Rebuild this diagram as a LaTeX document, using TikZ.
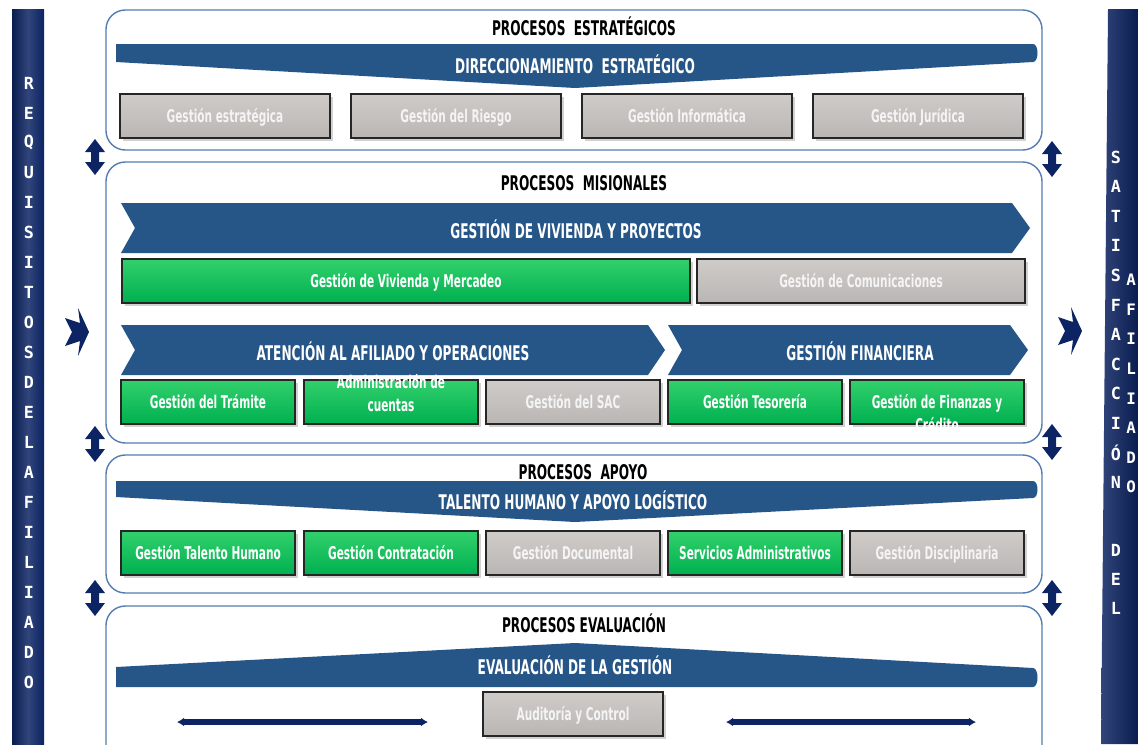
\documentclass[tikz,border=0pt]{standalone}
\usepackage{fontspec}
\setmainfont{DejaVu Sans}[FakeStretch=0.6]
\setmonofont{DejaVu Sans Mono}
\usetikzlibrary{arrows.meta,positioning,shapes,shadows}

\definecolor{azulbarra}{RGB}{12,36,99}
\definecolor{azulbanda}{RGB}{38,85,135}
\definecolor{bordepanel}{RGB}{84,124,176}
\definecolor{verde}{RGB}{0,176,80}
\definecolor{verdeclaro}{RGB}{50,208,108}
\definecolor{gris}{RGB}{186,182,179}
\definecolor{grisclaro}{RGB}{206,203,201}
\definecolor{textogris}{RGB}{244,244,244}

\begin{document}
\begin{tikzpicture}[x=0.02cm, y=-0.02cm, thick]

	\tikzstyle{panel}=[draw=bordepanel, line width=0.8pt, rounded corners=11pt, fill=white]
	\tikzstyle{caja}=[rectangle, draw=black!85, line width=1pt, minimum height=0.88cm, inner sep=1pt, text height=1.4ex, text depth=0pt, font=\bfseries\fontsize{10}{13}\selectfont, drop shadow={opacity=0.35, shadow xshift=1.5pt, shadow yshift=-1.5pt}]
	\tikzstyle{cverde}=[caja, top color=verdeclaro, bottom color=verde, text=white]
	\tikzstyle{cgris}=[caja, top color=grisclaro, bottom color=gris, text=textogris]
	\tikzstyle{banda}=[fill=azulbanda]
	\tikzstyle{tbanda}=[text=white, inner sep=0pt, font=\bfseries\fontsize{11.5}{12}\selectfont]
	\tikzstyle{titulo}=[text=black, inner sep=0pt, font=\bfseries\fontsize{11.5}{12}\selectfont]
	\tikzstyle{letra}=[text=white, inner sep=0pt, font=\ttfamily\bfseries\fontsize{9.5}{10}\selectfont]
	\tikzstyle{flecha}=[fill=azulbarra]
	\tikzstyle{linea}=[line width=3pt, draw=azulbarra, {Latex[length=4pt,width=5pt]}-{Latex[length=4pt,width=5pt]}]

	\useasboundingbox (0,0) rectangle (1138,744);
	\clip (0,0) rectangle (1138,744);

	% barras laterales
	\shade[left color=azulbarra!80!black, right color=azulbarra, middle color=azulbarra!85!white] (12,9) rectangle (44,744);
	\shade[left color=azulbarra!85!white, right color=azulbarra!80!black] (1108,9) -- (1138,9) -- (1138,744) -- (1101,744) -- cycle;

	\foreach \l [count=\i from 0] in {R,E,Q,U,I,S,I,T,O,S,D,E,L,A,F,I,L,I,A,D,O}
		\node[letra] (izq\i) at (29,{83+\i*29.95}) {\l};
	\foreach \l [count=\i from 0] in {S,A,T,I,S,F,A,C,C,I,Ó,N}
		\node[letra] (der\i) at (1116,{157+\i*29.6}) {\l};
	\foreach \l [count=\i from 0] in {D,E,L}
		\node[letra] (del\i) at (1116,{550+\i*29}) {\l};
	\foreach \l [count=\i from 0] in {A,F,I,L,I,A,D,O}
		\node[letra, font=\ttfamily\bfseries\fontsize{9}{10}\selectfont] (afi\i) at (1131,{280+\i*29.6}) {\l};

	% paneles
	\draw[panel] (106,10) rectangle (1042,150);
	\draw[panel] (106,162) rectangle (1042,443);
	\draw[panel] (106,455) rectangle (1042,593);
	\draw[panel] (106,606) rectangle (1042,770);

	\node[titulo] (tit1) at (584,26) {PROCESOS\ \ ESTRATÉGICOS};
	\node[titulo] (tit2) at (584,183) {PROCESOS\ \ MISIONALES};
	\node[titulo] (tit3) at (583,472) {PROCESOS\ \ APOYO};
	\node[titulo] (tit4) at (584,623) {PROCESOS EVALUACIÓN};

	% bandas
	\fill[banda] (116,44) -- (1033,44) .. controls (1039,44) and (1039,62) .. (1033,62) -- (575,88) -- (116,62) -- cycle;
	\fill[banda] (121,203) -- (1012,203) -- (1030,228) -- (1012,253) -- (121,253) -- (135,228) -- cycle;
	\fill[banda] (121,325) -- (648,325) -- (665,350) -- (648,375) -- (121,375) -- (135,350) -- cycle;
	\fill[banda] (668,325) -- (1010,325) -- (1028,350) -- (1010,375) -- (668,375) -- (682,350) -- cycle;
	\fill[banda] (116,481) -- (1033,481) .. controls (1039,481) and (1039,498) .. (1033,498) -- (575,522) -- (116,497) -- cycle;
	\fill[banda] (116,667) -- (575,643) -- (1033,668) .. controls (1039,668) and (1039,687) .. (1033,687) -- (116,687) -- cycle;

	\node[tbanda] (b1) at (575,64) {DIRECCIONAMIENTO\ \ ESTRATÉGICO};
	\node[tbanda] (b2) at (576,229) {GESTIÓN DE VIVIENDA Y PROYECTOS};
	\node[tbanda] (b3) at (393,351) {ATENCIÓN AL AFILIADO Y OPERACIONES};
	\node[tbanda] (b4) at (860,351) {GESTIÓN FINANCIERA};
	\node[tbanda] (b5) at (573,500) {TALENTO HUMANO Y APOYO LOGÍSTICO};
	\node[tbanda] (b6) at (575,665) {EVALUACIÓN DE LA GESTIÓN};

	% procesos estrategicos
	\node[cgris, minimum width=4.2cm] (ge) at (225,116) {Gestión estratégica};
	\node[cgris, minimum width=4.2cm] (gr) at (456,116) {Gestión del Riesgo};
	\node[cgris, minimum width=4.2cm] (gi) at (687,116) {Gestión Informática};
	\node[cgris, minimum width=4.2cm] (gj) at (918,116) {Gestión Jurídica};

	% procesos misionales
	\node[cverde, minimum width=11.36cm] (gvm) at (406,281) {Gestión de Vivienda y Mercadeo};
	\node[cgris, minimum width=6.56cm] (gc) at (861,281) {Gestión de Comunicaciones};

	\node[cverde, minimum width=3.48cm] (gt) at (208,402) {Gestión del Trámite};
	\node[cverde, minimum width=3.48cm] (ac) at (391,402) {};
	\node[cgris, minimum width=3.48cm] (sac) at (573,402) {Gestión del SAC};
	\node[cverde, minimum width=3.48cm] (gte) at (755,402) {Gestión Tesorería};
	\node[cverde, minimum width=3.48cm] (gf) at (937,402) {};
	\node[text=white, align=center, inner sep=0pt, font=\bfseries\fontsize{10}{13}\selectfont] (acx) at ([yshift=5pt]ac.center) {Administración de\\cuentas};
	\node[text=white, align=center, inner sep=0pt, font=\bfseries\fontsize{10}{13}\selectfont] (gfx) at ([yshift=-6.5pt]gf.center) {Gestión de Finanzas y\\Crédito};

	% procesos apoyo
	\node[cverde, minimum width=3.48cm] (gth) at (208,553) {Gestión Talento Humano};
	\node[cverde, minimum width=3.48cm] (gco) at (391,553) {Gestión Contratación};
	\node[cgris, minimum width=3.48cm] (gd) at (573,553) {Gestión Documental};
	\node[cverde, minimum width=3.48cm] (sa) at (755,553) {Servicios Administrativos};
	\node[cgris, minimum width=3.48cm] (gdi) at (937,553) {Gestión Disciplinaria};

	% procesos evaluacion
	\node[cgris, minimum width=3.6cm] (ayc) at (573,714) {Auditoría y Control};
	\coordinate (l1a) at (177,722);
	\coordinate (l1b) at (428,722);
	\coordinate (l2a) at (726,722);
	\coordinate (l2b) at (976,722);
	\draw[linea] (l1a) -- (l1b);
	\draw[linea] (l2a) -- (l2b);

	% flechas
	\fill[flecha] (78,308) -- (89,332) -- (78,356) -- (80,341) -- (65,346) -- (72,332) -- (65,318) -- (80,323) -- cycle;
	\fill[flecha] (1071,307) -- (1082,331) -- (1071,355) -- (1073,340) -- (1058,345) -- (1065,331) -- (1058,317) -- (1073,322) -- cycle;
	\foreach \px/\py in {95/157, 95/444, 95/598, 1052/159, 1052/442, 1052/598}
		\fill[flecha, shift={(\px,\py)}] (0,-18) -- (10,-5) -- (4,-5) -- (4,5) -- (10,5) -- (0,18) -- (-10,5) -- (-4,5) -- (-4,-5) -- (-10,-5) -- cycle;

\end{tikzpicture}
\end{document}
